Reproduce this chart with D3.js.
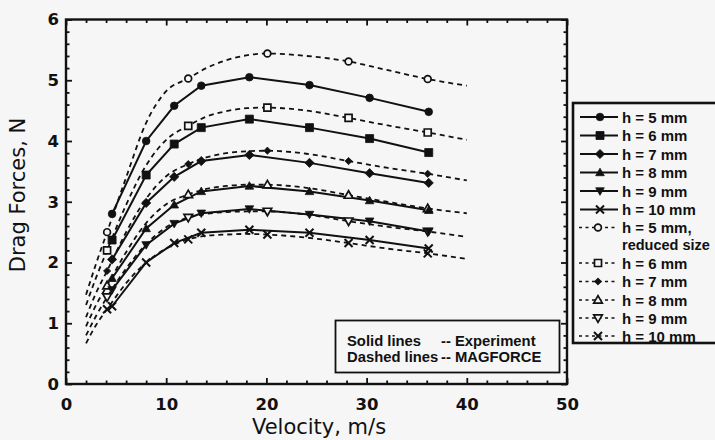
<!DOCTYPE html>
<html>
<head>
<meta charset="utf-8">
<script src="https://cdn.jsdelivr.net/npm/d3@7"></script>
<style>
  html, body { margin: 0; padding: 0; background: #f6f6f6; }
  svg { display: block; }
  text { fill: #111; }
  .title { font-family: "DejaVu Sans", "Liberation Sans", Arial, sans-serif; }
  .lab { font-family: "Liberation Sans", Arial, Helvetica, sans-serif; font-weight: bold; }
</style>
</head>
<body>
<svg id="chart" width="715" height="440"></svg>
<script>
// ---------------- data ----------------
const xTickValues = [0, 10, 20, 30, 40, 50];
const yTickValues = [0, 1, 2, 3, 4, 5, 6];
const xLabel = "Velocity, m/s";
const yLabel = "Drag Forces, N";

// Experiment (solid lines)
const velocityExp = [4.6, 8, 10.8, 13.5, 18.3, 24.3, 30.3, 36.2];
const exp_h5  = [2.80, 4.00, 4.58, 4.91, 5.05, 4.92, 4.71, 4.48];
const exp_h6  = [2.37, 3.44, 3.95, 4.22, 4.36, 4.22, 4.04, 3.81];
const exp_h7  = [2.05, 2.98, 3.41, 3.67, 3.77, 3.64, 3.47, 3.31];
const exp_h8  = [1.74, 2.56, 2.95, 3.17, 3.26, 3.17, 3.02, 2.86];
const exp_h9  = [1.55, 2.29, 2.64, 2.81, 2.88, 2.79, 2.68, 2.51];
const exp_h10 = [1.28, 2.00, 2.32, 2.49, 2.54, 2.49, 2.37, 2.23];

// MAGFORCE (dashed lines)
const velocityModel = [2, 3, 4.1, 6, 8, 10, 12.2, 14, 16, 18, 20.1, 24, 28.2, 32, 36.1, 40];
const modelMarkerVelocity = [4.1, 12.2, 20.1, 28.2, 36.1];
const mag_h5  = [1.47, 1.98, 2.50, 3.40, 4.30, 4.82, 5.03, 5.20, 5.33, 5.41, 5.44, 5.40, 5.31, 5.17, 5.02, 4.91];
const mag_h6  = [1.30, 1.75, 2.20, 2.95, 3.60, 4.02, 4.25, 4.40, 4.49, 4.54, 4.55, 4.50, 4.38, 4.26, 4.14, 4.02];
const mag_h7  = [1.10, 1.50, 1.86, 2.50, 3.05, 3.42, 3.62, 3.73, 3.80, 3.83, 3.84, 3.79, 3.67, 3.56, 3.46, 3.35];
const mag_h8  = [0.95, 1.30, 1.62, 2.17, 2.65, 2.96, 3.12, 3.21, 3.26, 3.28, 3.28, 3.23, 3.11, 3.00, 2.89, 2.81];
const mag_h9  = [0.80, 1.12, 1.43, 1.90, 2.30, 2.58, 2.74, 2.80, 2.83, 2.84, 2.84, 2.79, 2.68, 2.59, 2.51, 2.42];
const mag_h10 = [0.67, 0.97, 1.23, 1.66, 2.00, 2.23, 2.38, 2.44, 2.46, 2.47, 2.46, 2.41, 2.32, 2.23, 2.15, 2.06];

const expLabels = ["h = 5 mm", "h = 6 mm", "h = 7 mm", "h = 8 mm", "h = 9 mm", "h = 10 mm"];
const magLabels = [["h = 5 mm,", "reduced size"], ["h = 6 mm"], ["h = 7 mm"], ["h = 8 mm"], ["h = 9 mm"], ["h = 10 mm"]];
const expMarkers = ["circle", "square", "diamond", "triUp", "triDown", "cross"];
const magMarkers = ["circleOpen", "squareOpen", "diamondSmall", "triUpOpen", "triDownOpen", "cross"];
const noteLines = [["Solid lines", "-- Experiment"], ["Dashed lines", "-- MAGFORCE"]];

// ---------------- drawing ----------------
const svg = d3.select("#chart");
const x = d3.scaleLinear().domain([0, 50]).range([66, 567]);
const y = d3.scaleLinear().domain([0, 6]).range([384, 19.5]);

const expSeries = [exp_h5, exp_h6, exp_h7, exp_h8, exp_h9, exp_h10];
const magSeries = [mag_h5, mag_h6, mag_h7, mag_h8, mag_h9, mag_h10];

function markerPath(type) {
  switch (type) {
    case "circle": case "circleOpen": return d3.symbol(d3.symbolCircle, type === "circle" ? 46 : 36)();
    case "square": return "M-4,-4H4V4H-4Z";
    case "squareOpen": return "M-3.5,-3.5H3.5V3.5H-3.5Z";
    case "diamond": return "M0,-4.6L4.6,0L0,4.6L-4.6,0Z";
    case "diamondSmall": return "M0,-3.6L3.6,0L0,3.6L-3.6,0Z";
    case "triUp": case "triUpOpen": return "M0,-4.3L4.3,3.2L-4.3,3.2Z";
    case "triDown": case "triDownOpen": return "M0,4.3L4.3,-3.2L-4.3,-3.2Z";
    case "cross": return "M-4,-4L4,4M-4,4L4,-4";
  }
}
function styleMarker(sel, type) {
  const open = /Open/.test(type);
  const cross = type === "cross";
  sel.attr("d", markerPath(type))
    .attr("fill", open || cross ? "#f6f6f6" : "#111")
    .attr("stroke", "#111")
    .attr("stroke-width", cross ? 2 : (open ? 1.7 : 0.8));
}

// Frame + ticks
const gAxes = svg.append("g");
const xMinor = d3.range(0, 50.001, 2).filter(v => v % 10 !== 0);
const yMinor = d3.range(0, 6.001, 0.2).map(v => +v.toFixed(1)).filter(v => Math.abs(v - Math.round(v)) > 1e-6);

gAxes.append("g").attr("transform", `translate(0,${y(0)})`)
  .call(d3.axisBottom(x).tickValues(xTickValues).tickSize(-6).tickPadding(14).tickFormat(d3.format("d")));
gAxes.append("g").attr("transform", `translate(${x(0)},0)`)
  .call(d3.axisLeft(y).tickValues(yTickValues).tickSize(-6).tickPadding(7).tickFormat(d3.format("d")));
gAxes.append("g").attr("transform", `translate(0,${y(6)})`)
  .call(d3.axisTop(x).tickValues(xTickValues).tickSize(-6).tickFormat(""));
gAxes.append("g").attr("transform", `translate(${x(50)},0)`)
  .call(d3.axisRight(y).tickValues(yTickValues).tickSize(-6).tickFormat(""));
// minor ticks
gAxes.append("g").attr("transform", `translate(0,${y(0)})`)
  .call(d3.axisBottom(x).tickValues(xMinor).tickSize(-3.5).tickFormat(""));
gAxes.append("g").attr("transform", `translate(0,${y(6)})`)
  .call(d3.axisTop(x).tickValues(xMinor).tickSize(-3.5).tickFormat(""));
gAxes.append("g").attr("transform", `translate(${x(0)},0)`)
  .call(d3.axisLeft(y).tickValues(yMinor).tickSize(-3.5).tickFormat(""));
gAxes.append("g").attr("transform", `translate(${x(50)},0)`)
  .call(d3.axisRight(y).tickValues(yMinor).tickSize(-3.5).tickFormat(""));
gAxes.selectAll(".domain").remove();
gAxes.selectAll(".tick line").attr("stroke", "#111").attr("stroke-width", 1.8);
gAxes.selectAll(".tick text").attr("font-size", 16.5).attr("fill", "#111")
  .attr("font-weight", "bold")
  .attr("font-family", '"DejaVu Sans", Arial, sans-serif');
gAxes.append("rect")
  .attr("x", x(0)).attr("y", y(6)).attr("width", x(50) - x(0)).attr("height", y(0) - y(6))
  .attr("fill", "none").attr("stroke", "#111").attr("stroke-width", 2.4);

// Axis titles
svg.append("text").attr("class", "title").attr("x", 319).attr("y", 434).attr("text-anchor", "middle")
  .attr("font-size", 21).text(xLabel);
svg.append("text").attr("class", "title").attr("transform", "translate(25,195) rotate(-90)").attr("text-anchor", "middle")
  .attr("font-size", 21).text(yLabel);

// Curves
const lineSolid = d3.line().x(d => x(d[0])).y(d => y(d[1]));
const lineDashed = d3.line().x(d => x(d[0])).y(d => y(d[1])).curve(d3.curveMonotoneX);

const gLines = svg.append("g");
magSeries.forEach((vals) => {
  const pts = velocityModel.map((v, j) => [v, vals[j]]);
  gLines.append("path").attr("d", lineDashed(pts)).attr("fill", "none")
    .attr("stroke", "#111").attr("stroke-width", 1.8).attr("stroke-dasharray", "5,4");
});
expSeries.forEach((vals) => {
  const pts = velocityExp.map((v, j) => [v, vals[j]]);
  gLines.append("path").attr("d", lineSolid(pts)).attr("fill", "none")
    .attr("stroke", "#111").attr("stroke-width", 2);
});
magSeries.forEach((vals, i) => {
  const pts = velocityModel.map((v, j) => [v, vals[j]]).filter(p => modelMarkerVelocity.includes(p[0]));
  gLines.selectAll(null).data(pts).enter().append("path")
    .attr("transform", d => `translate(${x(d[0])},${y(d[1])})`)
    .call(styleMarker, magMarkers[i]);
});
expSeries.forEach((vals, i) => {
  const pts = velocityExp.map((v, j) => [v, vals[j]]);
  gLines.selectAll(null).data(pts).enter().append("path")
    .attr("transform", d => `translate(${x(d[0])},${y(d[1])})`)
    .call(styleMarker, expMarkers[i]);
});

// Note box
const gNote = svg.append("g");
gNote.append("rect").attr("x", 335.5).attr("y", 320.5).attr("width", 224).attr("height", 52)
  .attr("fill", "#f6f6f6").attr("stroke", "#111").attr("stroke-width", 1.8);
noteLines.forEach((ln, i) => {
  gNote.append("text").attr("class", "lab").attr("x", 347).attr("y", 346 + i * 16).attr("font-size", 14.8).text(ln[0]);
  gNote.append("text").attr("class", "lab").attr("x", 441).attr("y", 346 + i * 16).attr("font-size", 14.8).text(ln[1]);
});

// Legend
const gLeg = svg.append("g");
gLeg.append("rect").attr("x", 573).attr("y", 103).attr("width", 160).attr("height", 240)
  .attr("fill", "#f6f6f6").attr("stroke", "#111").attr("stroke-width", 2.6);
const rowY = [117, 135.5, 154, 172.5, 191, 209.5];
const magRowY = [227.5, 263, 281.5, 300, 318, 336];
expLabels.forEach((lab, i) => {
  const cy = rowY[i];
  gLeg.append("line").attr("x1", 580).attr("x2", 618).attr("y1", cy).attr("y2", cy)
    .attr("stroke", "#111").attr("stroke-width", 1.8);
  gLeg.append("path").attr("transform", `translate(600,${cy})`).call(styleMarker, expMarkers[i]);
  gLeg.append("text").attr("class", "lab").attr("x", 622).attr("y", cy + 5.5).attr("font-size", 15).text(lab);
});
magLabels.forEach((lab, i) => {
  const cy = magRowY[i];
  gLeg.append("line").attr("x1", 579).attr("x2", 618).attr("y1", cy).attr("y2", cy)
    .attr("stroke", "#111").attr("stroke-width", 1.7).attr("stroke-dasharray", "3,3.5");
  gLeg.append("path").attr("transform", `translate(598,${cy})`).call(styleMarker, magMarkers[i]);
  lab.forEach((t, k) => {
    gLeg.append("text").attr("class", "lab").attr("x", 622).attr("y", cy + 5.5 + k * 17)
      .attr("font-size", k === 0 ? 15 : 14.5).text(t);
  });
});
</script>
</body>
</html>
